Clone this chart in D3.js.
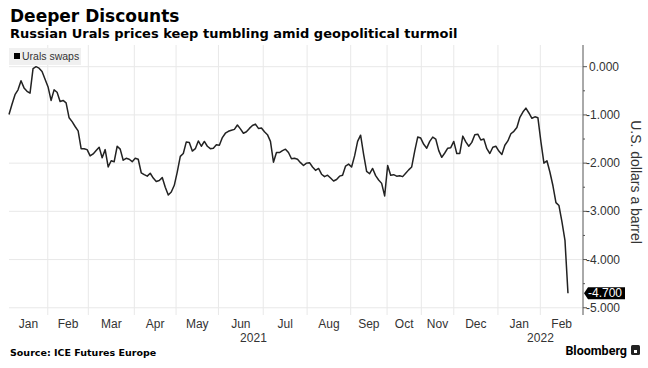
<!DOCTYPE html>
<html>
<head>
<meta charset="utf-8">
<script src="https://cdn.jsdelivr.net/npm/d3@7"></script>
<style>
  body { margin: 0; background: #fff; }
  svg { display: block; }
  .title { font-family: "DejaVu Sans"; font-weight: bold; }
  .tick-label { font-family: "Liberation Sans"; fill: #333; }
</style>
</head>
<body>
<div id="chart"></div>
<script>
var svgWidth = 648;
var svgHeight = 368;

// month labels along the bottom and the trading-day slot where each month begins
var monthLabels = ["Jan", "Feb", "Mar", "Apr", "May", "Jun", "Jul", "Aug", "Sep", "Oct", "Nov", "Dec", "Jan", "Feb"];
var monthBounds = [0, 12.9, 26.4, 41.7, 55.6, 69.7, 84.6, 99.2, 113.7, 125.8, 137.2, 148.0, 162.7, 176.8, 191];
var yearLabels = ["2021", "2022"];
var yearMonths = [[0, 12], [12, 14]];   // month index range covered by each year
var yTicks = [0, -1, -2, -3, -4, -5];
var yMinorTicks = [-0.5, -1.5, -2.5, -3.5, -4.5];
var lastLabel = "-4.700";

// Urals swaps, U.S. dollars a barrel
var urals = [
  -0.99, -0.78, -0.58, -0.48, -0.29, -0.44, -0.51, -0.55, -0.04, 0.00,
  -0.03, -0.10, -0.26, -0.42, -0.70, -0.48, -0.53, -0.72, -0.70, -0.75,
  -1.06, -1.14, -1.24, -1.33, -1.70, -1.70, -1.72, -1.85, -1.81, -1.74,
  -1.67, -1.89, -1.72, -2.08, -1.95, -1.97, -1.65, -1.71, -1.94, -1.90,
  -1.92, -1.97, -1.90, -1.92, -2.20, -2.24, -2.27, -2.21, -2.31, -2.38,
  -2.36, -2.30, -2.50, -2.66, -2.60, -2.46, -2.18, -1.86, -1.80, -1.56,
  -1.57, -1.75, -1.70, -1.54, -1.65, -1.55, -1.65, -1.70, -1.69, -1.62,
  -1.63, -1.47, -1.38, -1.34, -1.32, -1.30, -1.21, -1.29, -1.38, -1.35,
  -1.28, -1.22, -1.19, -1.28, -1.27, -1.35, -1.41, -1.55, -1.98, -1.78,
  -1.78, -1.74, -1.71, -1.78, -1.91, -1.90, -1.92, -1.99, -2.05, -2.00,
  -1.99, -2.08, -2.15, -2.11, -2.23, -2.28, -2.25, -2.31, -2.37, -2.34,
  -2.27, -2.25, -2.06, -2.02, -2.08, -1.85, -1.55, -1.42, -1.82, -2.17,
  -2.22, -2.11, -2.26, -2.35, -2.42, -2.68, -2.05, -2.25, -2.24, -2.27,
  -2.26, -2.28, -2.21, -2.14, -2.08, -1.75, -1.46, -1.48, -1.61, -1.69,
  -1.55, -1.46, -1.50, -1.74, -1.88, -1.79, -1.69, -1.68, -1.55, -1.80,
  -1.80, -1.44, -1.56, -1.65, -1.57, -1.41, -1.40, -1.52, -1.50, -1.70,
  -1.80, -1.67, -1.65, -1.75, -1.82, -1.63, -1.54, -1.39, -1.34, -1.26,
  -1.05, -0.94, -0.86, -0.96, -1.07, -1.04, -1.06, -1.56, -2.00, -1.95,
  -2.19, -2.47, -2.82, -2.88, -3.22, -3.60, -4.70
];

var plot = { left: 9, right: 583, top: 45, bottom: 315 };

var svg = d3.select("#chart")
  .append("svg")
  .attr("width", svgWidth)
  .attr("height", svgHeight);

var xScale = d3.scaleLinear()
  .domain([0, 191])
  .range([plot.left, plot.right]);

var yScale = d3.scaleLinear()
  .domain([-5.15, 0.45])
  .range([plot.bottom, plot.top]);

// headings
svg.append("text")
  .attr("class", "title")
  .attr("x", 10)
  .attr("y", 22)
  .attr("font-size", "17px")
  .attr("fill", "#000")
  .text("Deeper Discounts");

svg.append("text")
  .attr("class", "title")
  .attr("x", 10)
  .attr("y", 38)
  .attr("font-size", "13px")
  .attr("fill", "#000")
  .text("Russian Urals prices keep tumbling amid geopolitical turmoil");

// gridlines
var grid = svg.append("g");
grid.selectAll(".hgrid")
  .data(yTicks)
  .enter()
  .append("line")
  .attr("x1", plot.left)
  .attr("x2", plot.right)
  .attr("y1", d => yScale(d))
  .attr("y2", d => yScale(d))
  .attr("stroke", "#e8e8e8")
  .attr("stroke-width", 1);

grid.selectAll(".vgrid")
  .data(monthBounds.slice(1, monthBounds.length - 1))
  .enter()
  .append("line")
  .attr("x1", d => xScale(d))
  .attr("x2", d => xScale(d))
  .attr("y1", plot.top)
  .attr("y2", plot.bottom)
  .attr("stroke", "#e8e8e8")
  .attr("stroke-width", 1);

// legend
svg.append("rect")
  .attr("x", 9)
  .attr("y", 48)
  .attr("width", 72)
  .attr("height", 17)
  .attr("fill", "#f0f0f0");
svg.append("rect")
  .attr("x", 14)
  .attr("y", 53)
  .attr("width", 6)
  .attr("height", 6)
  .attr("fill", "#000");
svg.append("text")
  .attr("class", "tick-label")
  .attr("x", 22)
  .attr("y", 60)
  .attr("font-size", "10.5px")
  .text("Urals swaps");

// line
var line = d3.line()
  .x((d, i) => xScale(i))
  .y(d => yScale(d));

svg.append("path")
  .datum(urals)
  .attr("d", line)
  .attr("fill", "none")
  .attr("stroke", "#222")
  .attr("stroke-width", 1.5)
  .attr("stroke-linejoin", "round");

// right axis
var yAxis = svg.append("g")
  .attr("transform", `translate(${plot.right},0)`);
yAxis.append("line")
  .attr("y1", plot.top)
  .attr("y2", plot.bottom)
  .attr("stroke", "#555");
yAxis.selectAll(".major")
  .data(yTicks)
  .enter()
  .append("line")
  .attr("x1", 0)
  .attr("x2", 4)
  .attr("y1", d => yScale(d))
  .attr("y2", d => yScale(d))
  .attr("stroke", "#555");
yAxis.selectAll(".minor")
  .data(yMinorTicks)
  .enter()
  .append("line")
  .attr("x1", 0)
  .attr("x2", 2)
  .attr("y1", d => yScale(d))
  .attr("y2", d => yScale(d))
  .attr("stroke", "#555");
yAxis.selectAll(".label")
  .data(yTicks)
  .enter()
  .append("text")
  .attr("class", "tick-label")
  .attr("x", d => d === 0 ? 6 : 3)
  .attr("y", d => yScale(d) + 4)
  .attr("font-size", "12px")
  .text(d => d3.format(".3f")(d).replace("−", "-"));

// last value marker
var lastY = yScale(urals[urals.length - 1]);
svg.append("path")
  .attr("d", `M${plot.right + 1},${lastY} l4,-6 h37 v12 h-37 z`)
  .attr("fill", "#000");
svg.append("text")
  .attr("class", "tick-label")
  .attr("x", plot.right + 5)
  .attr("y", lastY + 4)
  .attr("font-size", "12px")
  .style("fill", "#fff")
  .text(lastLabel);

// y title
svg.append("text")
  .attr("class", "tick-label")
  .attr("transform", `translate(631,182) rotate(90)`)
  .attr("text-anchor", "middle")
  .attr("font-size", "14px")
  .text("U.S. dollars a barrel");

// month labels
svg.selectAll(".month")
  .data(monthLabels)
  .enter()
  .append("text")
  .attr("class", "tick-label")
  .attr("x", (d, i) => xScale((monthBounds[i] + monthBounds[i + 1]) / 2))
  .attr("y", 328)
  .attr("text-anchor", "middle")
  .attr("font-size", "12px")
  .text(d => d);

svg.selectAll(".year")
  .data(yearLabels)
  .enter()
  .append("text")
  .attr("class", "tick-label")
  .attr("x", (d, i) => xScale((monthBounds[yearMonths[i][0]] + monthBounds[yearMonths[i][1]]) / 2))
  .attr("y", 342)
  .attr("text-anchor", "middle")
  .attr("font-size", "12px")
  .text(d => d);

// footer
svg.append("text")
  .attr("class", "title")
  .attr("x", 10)
  .attr("y", 356)
  .attr("font-size", "9.5px")
  .attr("fill", "#000")
  .text("Source: ICE Futures Europe");

svg.append("text")
  .attr("x", 627)
  .attr("y", 355)
  .attr("text-anchor", "end")
  .attr("font-family", "Roboto")
  .attr("font-weight", "bold")
  .attr("font-size", "12.5px")
  .attr("fill", "#000")
  .text("Bloomberg");
svg.append("rect")
  .attr("x", 631)
  .attr("y", 345)
  .attr("width", 9)
  .attr("height", 10)
  .attr("rx", 1.5)
  .attr("fill", "#222");
svg.append("rect")
  .attr("x", 634)
  .attr("y", 350)
  .attr("width", 3)
  .attr("height", 3)
  .attr("fill", "#fff");
</script>
</body>
</html>
